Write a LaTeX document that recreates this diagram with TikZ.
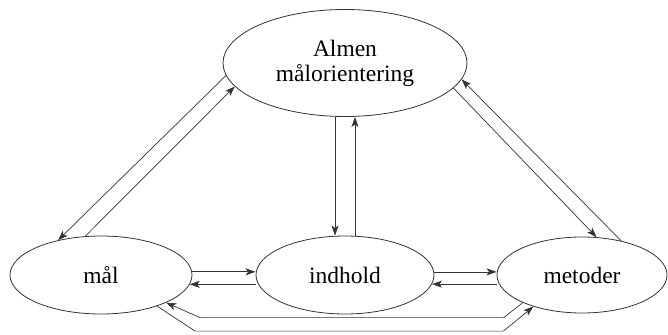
\documentclass[tikz,border=0pt]{standalone}
\usepackage{fontspec}
\setmainfont{Liberation Serif}
\usetikzlibrary{shapes.geometric,arrows.meta,calc}
\begin{document}
\begin{tikzpicture}[x=1pt,y=-1pt,
  ell/.style={draw=black!80,line width=0.8pt,ellipse,inner sep=0pt,font=\fontsize{23.5}{25}\selectfont,align=center},
  conn/.style={draw=black!80,line width=0.7pt},
  arr/.style={conn,-{Stealth[length=10pt,width=7pt,inset=2.5pt]}}]
\useasboundingbox (0,0) rectangle (668,334);
\node[ell,minimum width=244pt,minimum height=107pt] (top) at (345,63) {Almen\\målorientering};
\node[ell,minimum width=182pt,minimum height=78pt] (mal) at (101,275) {mål};
\node[ell,minimum width=178pt,minimum height=78pt] (ind) at (345,275) {indhold};
\node[ell,minimum width=170pt,minimum height=76pt] (met) at (582,275) {metoder};
% top <-> mal
\draw[arr] (top.186) -- (mal.141);
\draw[arr] (mal.112) -- (top.192);
% top <-> met
\draw[arr] (top.347) -- (met.69);
\draw[arr] (met.41) -- (top.352);
% top <-> ind
\draw[arr] ([xshift=-10pt]top.south) -- ([xshift=-10pt]ind.north);
\draw[arr] ([xshift=10pt]ind.north) -- ([xshift=10pt]top.south);
% mal <-> ind
\draw[arr] (mal.2) -- (mal.2 -| ind.west);
\draw[arr] (mal.-6 -| ind.west) -- (mal.-6);
% ind <-> met
\draw[arr] (ind.2) -- (ind.2 -| met.west);
\draw[arr] (ind.-6 -| met.west) -- (ind.-6);
% bottom paths
\coordinate (m1s) at ($(mal.-23)+(34,0)$);
\draw[arr] (met.205) -- ++(-19,15) coordinate (c1) -- (c1 -| m1s) -- (mal.-23);
\coordinate (m2e) at ($(met.213.7)+(-30,0)$);
\draw[arr] (mal.-29.4) -- ++(38,25) coordinate (c2) -- (c2 -| m2e) -- (met.213.7);
\end{tikzpicture}
\end{document}
